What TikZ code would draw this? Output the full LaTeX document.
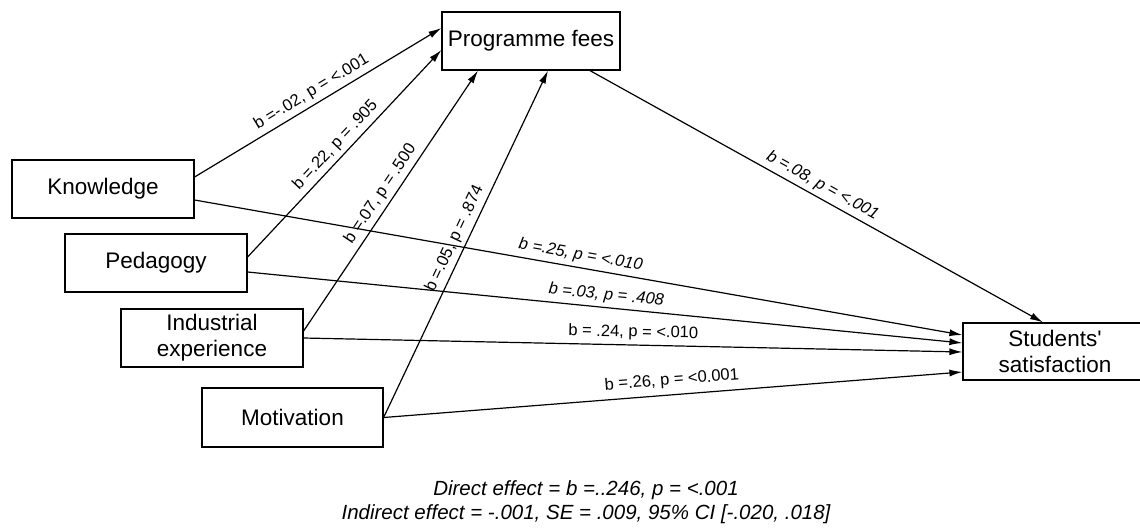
\documentclass[tikz,border=0pt]{standalone}
\usepackage{fontspec}
\setmainfont{Liberation Sans}
\usetikzlibrary{arrows.meta}

\begin{document}
\begin{tikzpicture}[
      x=1pt,y=-1pt,
      >={Latex[length=13pt,width=7pt]},
      var/.style={rectangle,draw,line width=1.2pt,minimum width=182pt,
                  minimum height=58pt,inner sep=0pt,align=center,
                  font=\fontsize{22.5}{26}\selectfont},
      ar/.style={->,line width=1.2pt},
      coef/.style={sloped,above,inner sep=4pt,font=\fontsize{16.5}{19}\selectfont},
      coefit/.style={coef,font=\fontsize{16.5}{19}\selectfont\itshape},
      note/.style={align=center,font=\fontsize{20.5}{23.5}\selectfont\itshape}]

    \useasboundingbox (0,0) rectangle (1140,531);

    % ---------- mediator and outcome ----------
    \node[var,minimum width=178pt] (fees) at (531,41) {Programme fees};
    \node[var,minimum width=184pt,minimum height=57pt] (sat) at (1055,351.5)
      {Students\textquotesingle\\satisfaction};

    % ---------- predictors ----------
    \node[var] (know) at (103,189)   {Knowledge};
    \node[var] (ped)  at (156,263)   {Pedagogy};
    \node[var] (ind)  at (212,338)   {Industrial\\experience};
    \node[var,minimum width=181pt,minimum height=59pt] (mot) at (292.5,417.5) {Motivation};

    % ---------- paths a : predictors -> programme fees ----------
    \draw[ar] ([yshift=12pt]know.east) -- ([yshift=13pt]fees.west)
      node[coef,midway] {b =-.02, p = <.001};
    \draw[ar] ([yshift=6pt]ped.east) -- ([yshift=-9pt]fees.west)
      node[coef,midway] {b =.22, p = .905};
    \draw[ar] ([yshift=7pt]ind.east) -- ([xshift=-53pt]fees.south)
      node[coef,midway] {b =.07, p = .500};
    \draw[ar] (mot.east) -- ([xshift=17pt]fees.south)
      node[coef,midway] {b =.05, p = .874};

    % ---------- path b : programme fees -> satisfaction ----------
    \draw[ar] ([xshift=59pt]fees.south) -- ([xshift=-12pt]sat.north)
      node[coefit,midway] {b =.08, p = <.001};

    % ---------- paths c' : predictors -> satisfaction ----------
    \draw[ar] ([yshift=-11pt]know.east) -- ([yshift=16.5pt]sat.west)
      node[coefit,midway] {b =.25, p = <.010};
    \draw[ar] ([yshift=-9pt]ped.east) -- ([yshift=8.5pt]sat.west)
      node[coefit,midway] {b =.03, p = .408};
    \draw[ar] (ind.east) -- ([yshift=-0.5pt]sat.west)
      node[coef,midway] {b = .24, p = <.010};
    \draw[ar] (mot.east) -- ([yshift=-20.5pt]sat.west)
      node[coef,midway,above=2pt] {b =.26, p = <0.001};

    % ---------- effects ----------
    \node[note] (eff) at (586,502)
      {Direct effect = b =..246, p = <.001\\
       Indirect effect = -.001, SE = .009, 95\% CI [-.020, .018]};
  \end{tikzpicture}
\end{document}
